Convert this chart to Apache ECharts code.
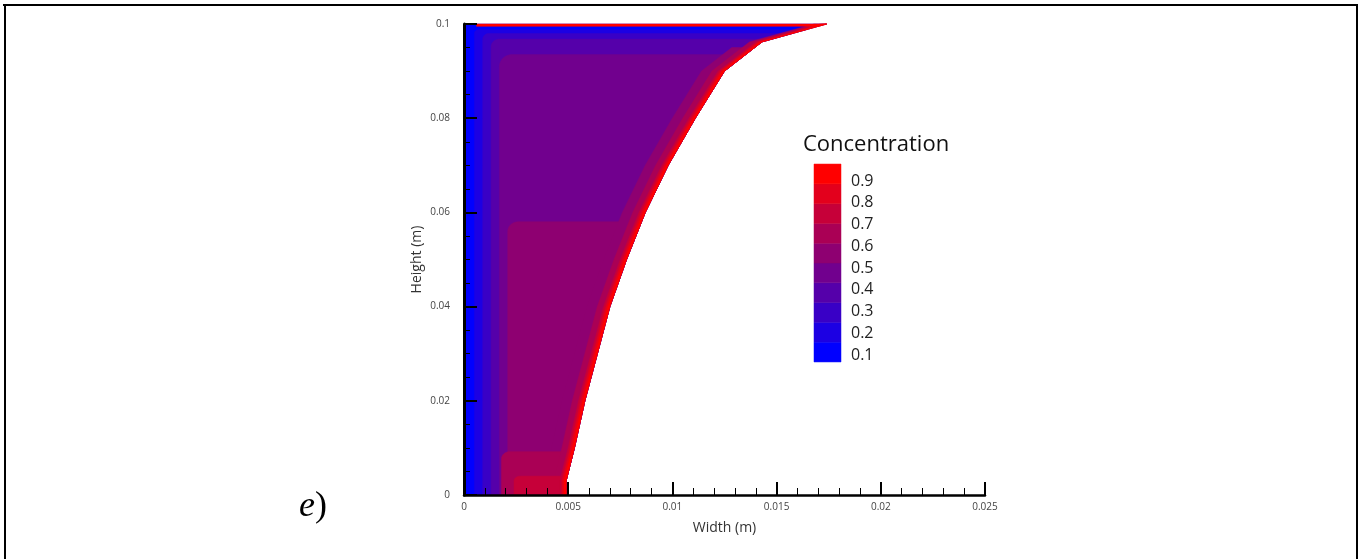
<!DOCTYPE html>
<html><head><meta charset="utf-8">
<script src="https://cdn.jsdelivr.net/npm/echarts@6/dist/echarts.min.js"></script>
<style>html,body{margin:0;padding:0;background:#fff}#c{width:1359px;height:559px}</style>
</head><body><div id="c"></div>
<script>
// Right (free-surface) boundary of the liquid domain, metres
const boundaryX = [0.0049, 0.0049, 0.0053, 0.0058, 0.0064, 0.0070, 0.0078, 0.0087, 0.0098, 0.0111, 0.0125, 0.0143, 0.0174];
const boundaryY = [0, 0.003, 0.010, 0.020, 0.030, 0.040, 0.050, 0.060, 0.070, 0.080, 0.090, 0.0962, 0.1];

// Nested contour regions bounded by the left wall side and a top edge (band index 0..9)
const boxLevel   = [0, 1, 2, 3, 4, 5, 6, 7];
const boxLeft    = [0, 0.0005, 0.0009, 0.0013, 0.0017, 0.0021, 0.0018, 0.0024];
const boxTop     = [0.1, 0.0988, 0.0980, 0.0968, 0.0935, 0.0580, 0.0092, 0.0040];
const boxCornerX = [0, 0.0002, 0.0003, 0.0004, 0.0006, 0.0005, 0.0004, 0.0003];
const boxCornerY = [0, 0.0008, 0.0012, 0.0016, 0.0025, 0.0020, 0.0015, 0.0010];

// Contour strips hugging the free surface
const stripLevel = [5, 6, 7, 8, 9];
const stripWidth = [0.0011, 0.0006, 0.0003, 0.0002, 0.0001];
const stripTop   = [0.095, 0.1, 0.1, 0.1, 0.1];

// High-concentration line along the top surface
const topLineLevel = 9;
const topLineStart = 0.0006;
const topLineBottom = 0.0995;

// Colour legend
const legendLabels = ['0.1', '0.2', '0.3', '0.4', '0.5', '0.6', '0.7', '0.8', '0.9'];
const legendBandEdges = [0.068, 0.159, 0.250, 0.341, 0.432, 0.523, 0.614, 0.705, 0.796, 0.887, 0.978];

const FONT = 'Open Sans';
function bandColor(i) {
  const t = i / 9;
  return 'rgb(' + Math.round(255 * t) + ',0,' + Math.round(255 * (1 - t)) + ')';
}
function boundaryAt(y) {
  for (let k = 1; k < boundaryY.length; k++) {
    if (y <= boundaryY[k]) {
      const t = (y - boundaryY[k - 1]) / (boundaryY[k] - boundaryY[k - 1]);
      return boundaryX[k - 1] + t * (boundaryX[k] - boundaryX[k - 1]);
    }
  }
  return boundaryX[boundaryX.length - 1];
}
function boxPolygon(j) {
  const left = boxLeft[j], top = boxTop[j], rx = boxCornerX[j], ry = boxCornerY[j];
  const pts = [[left, 0], [boundaryAt(0), 0]];
  for (let k = 0; k < boundaryY.length; k++) if (boundaryY[k] > 0 && boundaryY[k] < top) pts.push([boundaryX[k], boundaryY[k]]);
  pts.push([boundaryAt(top), top]);
  const n = 8;
  for (let s = 0; s <= n; s++) {
    const a = Math.PI / 2 * s / n;
    pts.push([left + rx - rx * Math.sin(a), top - ry + ry * Math.cos(a)]);
  }
  return pts;
}
function stripPolygon(j) {
  const d = stripWidth[j], top = stripTop[j];
  const outer = [[boundaryAt(0), 0]];
  for (let k = 0; k < boundaryY.length; k++) if (boundaryY[k] > 0 && boundaryY[k] < top) outer.push([boundaryX[k], boundaryY[k]]);
  outer.push([boundaryAt(top), top]);
  const inner = outer.map(p => [Math.max(p[0] - d, 0), p[1]]).reverse();
  return outer.concat(inner);
}
const polys = [];
boxLevel.forEach((lv, j) => polys.push({ level: lv, pts: boxPolygon(j) }));
stripLevel.forEach((lv, j) => polys.push({ level: lv, pts: stripPolygon(j) }));
polys.push({ level: topLineLevel, pts: [[topLineStart, topLineBottom], [boundaryAt(topLineBottom), topLineBottom], [boundaryAt(0.1), 0.1], [topLineStart, 0.1]] });
polys.sort((a, b) => a.level - b.level);

const chart = echarts.init(document.getElementById('c'));
chart.setOption({
  animation: false,
  backgroundColor: '#fff',
  grid: [
    { left: 464, top: 24, width: 521, height: 471 },
    { left: 814, top: 159.25, width: 27, height: 217.5 }
  ],
  xAxis: [{
    gridIndex: 0, type: 'value', min: 0, max: 0.025, interval: 0.005, z: 10,
    name: 'Width (m)', nameLocation: 'middle', nameGap: 26,
    nameTextStyle: { fontFamily: FONT, fontSize: 14, color: '#333' },
    axisLine: { lineStyle: { color: '#000', width: 2.5 } },
    axisTick: { inside: true, length: 13, lineStyle: { color: '#000', width: 2 } },
    minorTick: { show: true, splitNumber: 5, length: 7, lineStyle: { color: '#000', width: 1 } },
    splitLine: { show: false },
    axisLabel: { fontFamily: FONT, fontSize: 10, color: '#444', margin: 7 }
  }, {
    gridIndex: 1, type: 'value', min: 0, max: 1, show: false
  }],
  yAxis: [{
    gridIndex: 0, type: 'value', min: 0, max: 0.1, interval: 0.02, z: 10,
    name: 'Height (m)', nameLocation: 'middle', nameGap: 40, nameRotate: 90,
    nameTextStyle: { fontFamily: FONT, fontSize: 14, color: '#333' },
    axisLine: { lineStyle: { color: '#000', width: 3 } },
    axisTick: { inside: true, length: 13, lineStyle: { color: '#000', width: 2 } },
    minorTick: { show: true, splitNumber: 4, length: 6, lineStyle: { color: '#000', width: 1 } },
    splitLine: { show: false },
    axisLabel: { fontFamily: FONT, fontSize: 10, color: '#444', margin: 14 }
  }, {
    gridIndex: 1, type: 'value', min: 0, max: 1, interval: 0.1, position: 'right',
    axisLine: { show: false }, axisTick: { show: false }, splitLine: { show: false },
    axisLabel: {
      margin: 10, fontFamily: FONT, fontSize: 16, color: '#222',
      formatter: v => { const i = Math.round(v * 10); return (i >= 1 && i <= 9) ? legendLabels[i - 1] : ''; }
    }
  }],
  series: [{
    type: 'custom', xAxisIndex: 0, yAxisIndex: 0, silent: true,
    data: polys.map((p, i) => [0, 0, i]),
    renderItem: (params, api) => {
      const p = polys[api.value(2)];
      return {
        type: 'polygon',
        shape: { points: p.pts.map(q => api.coord(q)) },
        style: { fill: bandColor(p.level), stroke: bandColor(p.level), lineWidth: 0.5 }
      };
    }
  }, {
    type: 'custom', xAxisIndex: 1, yAxisIndex: 1, silent: true,
    data: legendBandEdges.slice(0, -1).map((e, i) => [0, 0, i]),
    renderItem: (params, api) => {
      const i = api.value(2);
      const a = api.coord([0, legendBandEdges[i + 1]]);
      const b = api.coord([1, legendBandEdges[i]]);
      return { type: 'rect', shape: { x: a[0], y: a[1], width: b[0] - a[0], height: b[1] - a[1] }, style: { fill: bandColor(i), stroke: bandColor(i), lineWidth: 0.5 } };
    }
  }],
  graphic: [
    { type: 'text', left: 803, top: 134, style: { text: 'Concentration', fontFamily: FONT, fontSize: 22, fill: '#111' } },
    { type: 'text', left: 299, top: 489, style: {
        text: '{i|e}{n|)}', rich: {
          i: { fontFamily: 'Liberation Serif', fontStyle: 'italic', fontSize: 36, fill: '#000' },
          n: { fontFamily: 'Liberation Serif', fontSize: 36, fill: '#000' }
        } } },
    { type: 'line', shape: { x1: 3, y1: 5, x2: 1358, y2: 5 }, style: { stroke: '#000', lineWidth: 2 } },
    { type: 'line', shape: { x1: 5, y1: 4, x2: 5, y2: 559 }, style: { stroke: '#000', lineWidth: 2 } },
    { type: 'line', shape: { x1: 1357, y1: 4, x2: 1357, y2: 559 }, style: { stroke: '#000', lineWidth: 2 } }
  ]
});
</script>
</body></html>
